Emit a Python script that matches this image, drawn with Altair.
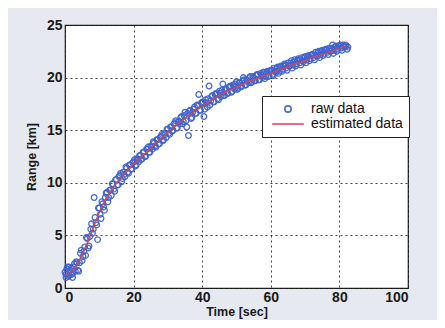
import altair as alt
import pandas as pd

est_time = [0, 2, 4, 6, 8, 10, 12, 14, 16, 18, 20, 22, 24, 26, 28, 30, 32, 34, 36, 38, 40,
            42, 44, 46, 48, 50, 52, 54, 56, 58, 60, 62, 64, 66, 68, 70, 72, 74, 76, 78, 80, 82]
est_range = [1.2, 1.6, 2.5, 3.9, 5.5, 7.2, 8.5, 9.5, 10.4, 11.1, 11.8, 12.4, 13.0, 13.6, 14.2,
             14.8, 15.4, 15.9, 16.4, 16.9, 17.3, 17.7, 18.1, 18.5, 18.8, 19.1, 19.4, 19.7, 19.9,
             20.2, 20.4, 20.7, 20.9, 21.2, 21.4, 21.6, 21.9, 22.1, 22.3, 22.5, 22.8, 23.0]

raw_time = [0.0, 0.3, 0.5, 1.0, 1.2, 1.5, 2.0, 2.2, 2.5, 3.0, 3.5, 4.0, 4.5, 5.0, 5.5, 6.0, 6.5,
            7.0, 7.5, 8.0, 8.5, 9.0, 9.5, 10.0, 10.5, 11.0, 11.5, 12.0, 12.5, 13.0, 13.5, 14.0,
            14.5, 15.0, 15.5, 16.0, 16.5, 17.0, 17.5, 18.0, 18.5, 19.0, 19.5, 20.0, 20.5, 21.0,
            21.5, 22.0, 22.5, 23.0, 23.5, 24.0, 24.5, 25.0, 25.5, 26.0, 26.5, 27.0, 27.5, 28.0,
            28.5, 29.0, 29.5, 30.0, 30.5, 31.0, 31.5, 32.0, 32.5, 33.0, 33.5, 34.0, 34.5, 35.0,
            35.5, 36.0, 36.5, 37.0, 37.5, 38.0, 38.5, 39.0, 39.5, 40.0, 40.5, 41.0, 41.5, 42.0,
            42.5, 43.0, 43.5, 44.0, 44.5, 45.0, 45.5, 46.0, 46.5, 47.0, 47.5, 48.0, 48.5, 49.0,
            49.5, 50.0, 50.5, 51.0, 51.5, 52.0, 52.5, 53.0, 53.5, 54.0, 54.5, 55.0, 55.5, 56.0,
            56.5, 57.0, 57.5, 58.0, 58.5, 59.0, 59.5, 60.0, 60.5, 61.0, 61.5, 62.0, 62.5, 63.0,
            63.5, 64.0, 64.5, 65.0, 65.5, 66.0, 66.5, 67.0, 67.5, 68.0, 68.5, 69.0, 69.5, 70.0,
            70.5, 71.0, 71.5, 72.0, 72.5, 73.0, 73.5, 74.0, 74.5, 75.0, 75.5, 76.0, 76.5, 77.0,
            77.5, 78.0, 78.5, 79.0, 79.5, 80.0, 80.5, 81.0, 81.5, 82.0, 82.5]
raw_range = [1.5, 1.0, 1.8, 1.1, 2.0, 1.7, 1.3, 1.0, 2.0, 1.6, 2.4, 1.6, 3.3, 2.6, 3.5, 3.1, 4.7,
             4.0, 5.6, 5.2, 8.6, 6.2, 4.6, 7.6, 6.6, 8.0, 7.4, 9.0, 8.2, 9.3, 8.8, 9.9,
             9.2, 10.3, 9.8, 10.7, 10.1, 11.0, 10.6, 11.4, 10.9, 11.7, 11.3, 12.0, 11.6, 12.3,
             12.0, 12.6, 12.3, 12.9, 12.5, 13.2, 12.9, 13.5, 13.2, 13.8, 13.4, 14.1, 13.7, 14.4,
             14.0, 14.7, 14.3, 15.1, 14.6, 15.3, 15.0, 15.7, 15.2, 15.8, 15.6, 16.3, 15.8, 16.7,
             15.3, 14.5, 16.9, 16.2, 17.0, 16.6, 17.4, 18.4, 16.9, 17.6, 16.3, 17.9, 17.2, 19.2,
             17.8, 18.3, 17.7, 18.5, 18.0, 18.7, 18.2, 19.4, 18.3, 18.9, 18.5, 19.1, 18.6, 19.3,
             18.9, 19.6, 19.0, 19.5, 19.2, 20.0, 19.3, 19.8, 19.5, 20.1, 19.6, 20.0, 19.7, 20.3,
             19.8, 20.4, 20.0, 20.5, 20.1, 20.6, 20.2, 20.7, 20.3, 20.9, 20.5, 21.0, 20.6, 21.1,
             20.8, 21.3, 20.9, 21.4, 21.1, 21.6, 21.2, 21.7, 21.3, 21.8, 21.4, 21.9, 21.5, 22.0,
             21.7, 22.1, 21.8, 22.2, 21.9, 22.4, 22.0, 22.5, 22.2, 22.6, 22.3, 22.7, 22.4, 22.8,
             22.5, 23.1, 22.6, 23.0, 22.7, 23.0, 22.8, 23.1, 22.9, 23.0, 22.9]

raw2_time = [0.25, 0.75, 1.25, 1.75, 2.25, 2.75, 3.25, 3.75, 4.25, 4.75, 5.25, 5.75, 6.25, 6.75,
             7.25, 7.75, 8.25, 8.75, 9.25, 9.75, 10.25, 10.75, 11.25, 11.75, 12.25, 12.75, 13.25,
             13.75, 14.25, 14.75, 15.25, 15.75, 16.25, 16.75, 17.25, 17.75, 18.25, 18.75, 19.25,
             19.75, 20.25, 20.75, 21.25, 21.75, 22.25, 22.75, 23.25, 23.75, 24.25, 24.75, 25.25,
             25.75, 26.25, 26.75, 27.25, 27.75, 28.25, 28.75, 29.25, 29.75, 30.25, 30.75, 31.25,
             31.75, 32.25, 32.75, 33.25, 33.75, 34.25, 34.75, 35.25, 35.75, 36.25, 36.75, 37.25,
             37.75, 38.25, 38.75, 39.25, 39.75, 40.25, 40.75, 41.25, 41.75, 42.25, 42.75, 43.25,
             43.75, 44.25, 44.75, 45.25, 45.75, 46.25, 46.75, 47.25, 47.75, 48.25, 48.75, 49.25,
             49.75, 50.25, 50.75, 51.25, 51.75, 52.25, 52.75, 53.25, 53.75, 54.25, 54.75, 55.25,
             55.75, 56.25, 56.75, 57.25, 57.75, 58.25, 58.75, 59.25, 59.75, 60.25, 60.75, 61.25,
             61.75, 62.25, 62.75, 63.25, 63.75, 64.25, 64.75, 65.25, 65.75, 66.25, 66.75, 67.25,
             67.75, 68.25, 68.75, 69.25, 69.75, 70.25, 70.75, 71.25, 71.75, 72.25, 72.75, 73.25,
             73.75, 74.25, 74.75, 75.25, 75.75, 76.25, 76.75, 77.25, 77.75, 78.25, 78.75, 79.25,
             79.75, 80.25, 80.75, 81.25, 81.75, 82.25]
raw2_range = [1.3, 2.0, 1.2, 1.9, 1.4, 2.3, 2.5, 1.7, 2.4, 3.6, 3.0, 3.9, 4.8, 3.8,
              4.9, 6.1, 5.6, 6.7, 6.0, 7.6, 7.0, 8.2, 7.7, 8.6, 9.1, 8.6, 9.3,
              9.9, 9.4, 10.3, 9.8, 10.6, 10.9, 10.4, 10.8, 11.5, 11.0, 11.7, 11.3,
              11.9, 12.2, 11.7, 12.2, 12.6, 12.2, 12.9, 12.5, 13.2, 13.4, 12.9, 13.4,
              13.9, 13.5, 14.1, 13.7, 14.3, 14.6, 14.1, 14.6, 15.1, 14.7, 15.3, 14.9,
              15.6, 15.9, 15.2, 15.8, 16.2, 15.6, 16.4, 15.9, 16.6, 16.8, 16.1, 16.7,
              17.2, 16.6, 17.3, 16.9, 17.6, 17.7, 17.0, 17.6, 18.0, 17.4, 18.2, 17.7,
              18.4, 18.5, 17.9, 18.5, 18.8, 18.3, 18.9, 18.5, 19.1, 19.2, 18.7, 19.1,
              19.4, 18.9, 19.5, 19.1, 19.7, 19.8, 19.3, 19.7, 20.0, 19.5, 20.1, 19.7,
              20.2, 20.3, 19.8, 20.2, 20.5, 19.9, 20.5, 20.1, 20.6, 20.7, 20.2, 20.6,
              20.9, 20.4, 21.0, 20.6, 21.1, 21.2, 20.7, 21.1, 21.4, 20.9, 21.5, 21.1,
              21.6, 21.7, 21.2, 21.6, 21.9, 21.4, 22.0, 21.6, 22.1, 22.2, 21.7, 22.1,
              22.4, 21.9, 22.5, 22.1, 22.6, 22.7, 22.2, 22.5, 22.8, 22.3, 22.9, 22.5,
              23.0, 23.1, 22.6, 22.9, 23.1, 22.7]

series_names = ["raw data", "estimated data"]
series_colors = ["#3f63cf", "#d0485a"]

raw = pd.DataFrame({"t": raw_time + raw2_time, "r": raw_range + raw2_range,
                    "series": series_names[0]})
est = pd.DataFrame({"t": est_time, "r": est_range, "series": series_names[1]})

FONT = "Liberation Sans"

legend = alt.Legend(
    title=None, orient="none", legendX=197, legendY=71,
    fillColor="white", strokeColor="#222", padding=6,
    labelFont=FONT, labelFontSize=14, labelColor="#111", labelLimit=200,
    symbolSize=40, symbolStrokeWidth=1.6, rowPadding=1,
    symbolOffset=13, labelOffset=16,
)

color = alt.Color("series:N", scale=alt.Scale(domain=series_names, range=series_colors), legend=legend)
shape = alt.Shape("series:N", scale=alt.Scale(domain=series_names, range=["circle", "M-5,0L5,0"]),
                  legend=legend)

x = alt.X("t:Q", title="Time [sec]", scale=alt.Scale(domain=[0, 100], nice=False),
          axis=alt.Axis(values=[0, 20, 40, 60, 80, 100]))
y = alt.Y("r:Q", title="Range [km]", scale=alt.Scale(domain=[0, 25], nice=False),
          axis=alt.Axis(values=[0, 5, 10, 15, 20, 25]))

points = alt.Chart(raw).mark_point(filled=False, size=32, strokeWidth=1.3, opacity=0.95).encode(
    x=x, y=y, color=color, shape=shape)
line = alt.Chart(est).mark_line(strokeWidth=1.4, interpolate="monotone").encode(
    x=x, y=y, color=color)

chart = alt.layer(points, line).properties(
    width=343, height=263,
    autosize=alt.AutoSizeParams(type="none"),
    padding={"left": 57, "top": 17, "right": 29, "bottom": 32},
    background="#e6e9ef",
).configure_view(
    fill="white", stroke="#222", strokeWidth=1.2,
).configure_axis(
    grid=True, gridColor="#111", gridDash=[2, 3], gridOpacity=0.8, gridWidth=1,
    domain=False, ticks=False,
    labelFont=FONT, labelFontSize=14, labelFontWeight="bold", labelColor="#1a1a1a", labelPadding=3,
    titleFont=FONT, titleFontSize=12.5, titleFontWeight="bold", titleColor="#1a1a1a",
).configure_axisX(
    labelPadding=2, titlePadding=1,
).configure_axisY(
    titlePadding=8,
)

chart.save("out.html", embed_options={"renderer": "svg", "actions": False})
